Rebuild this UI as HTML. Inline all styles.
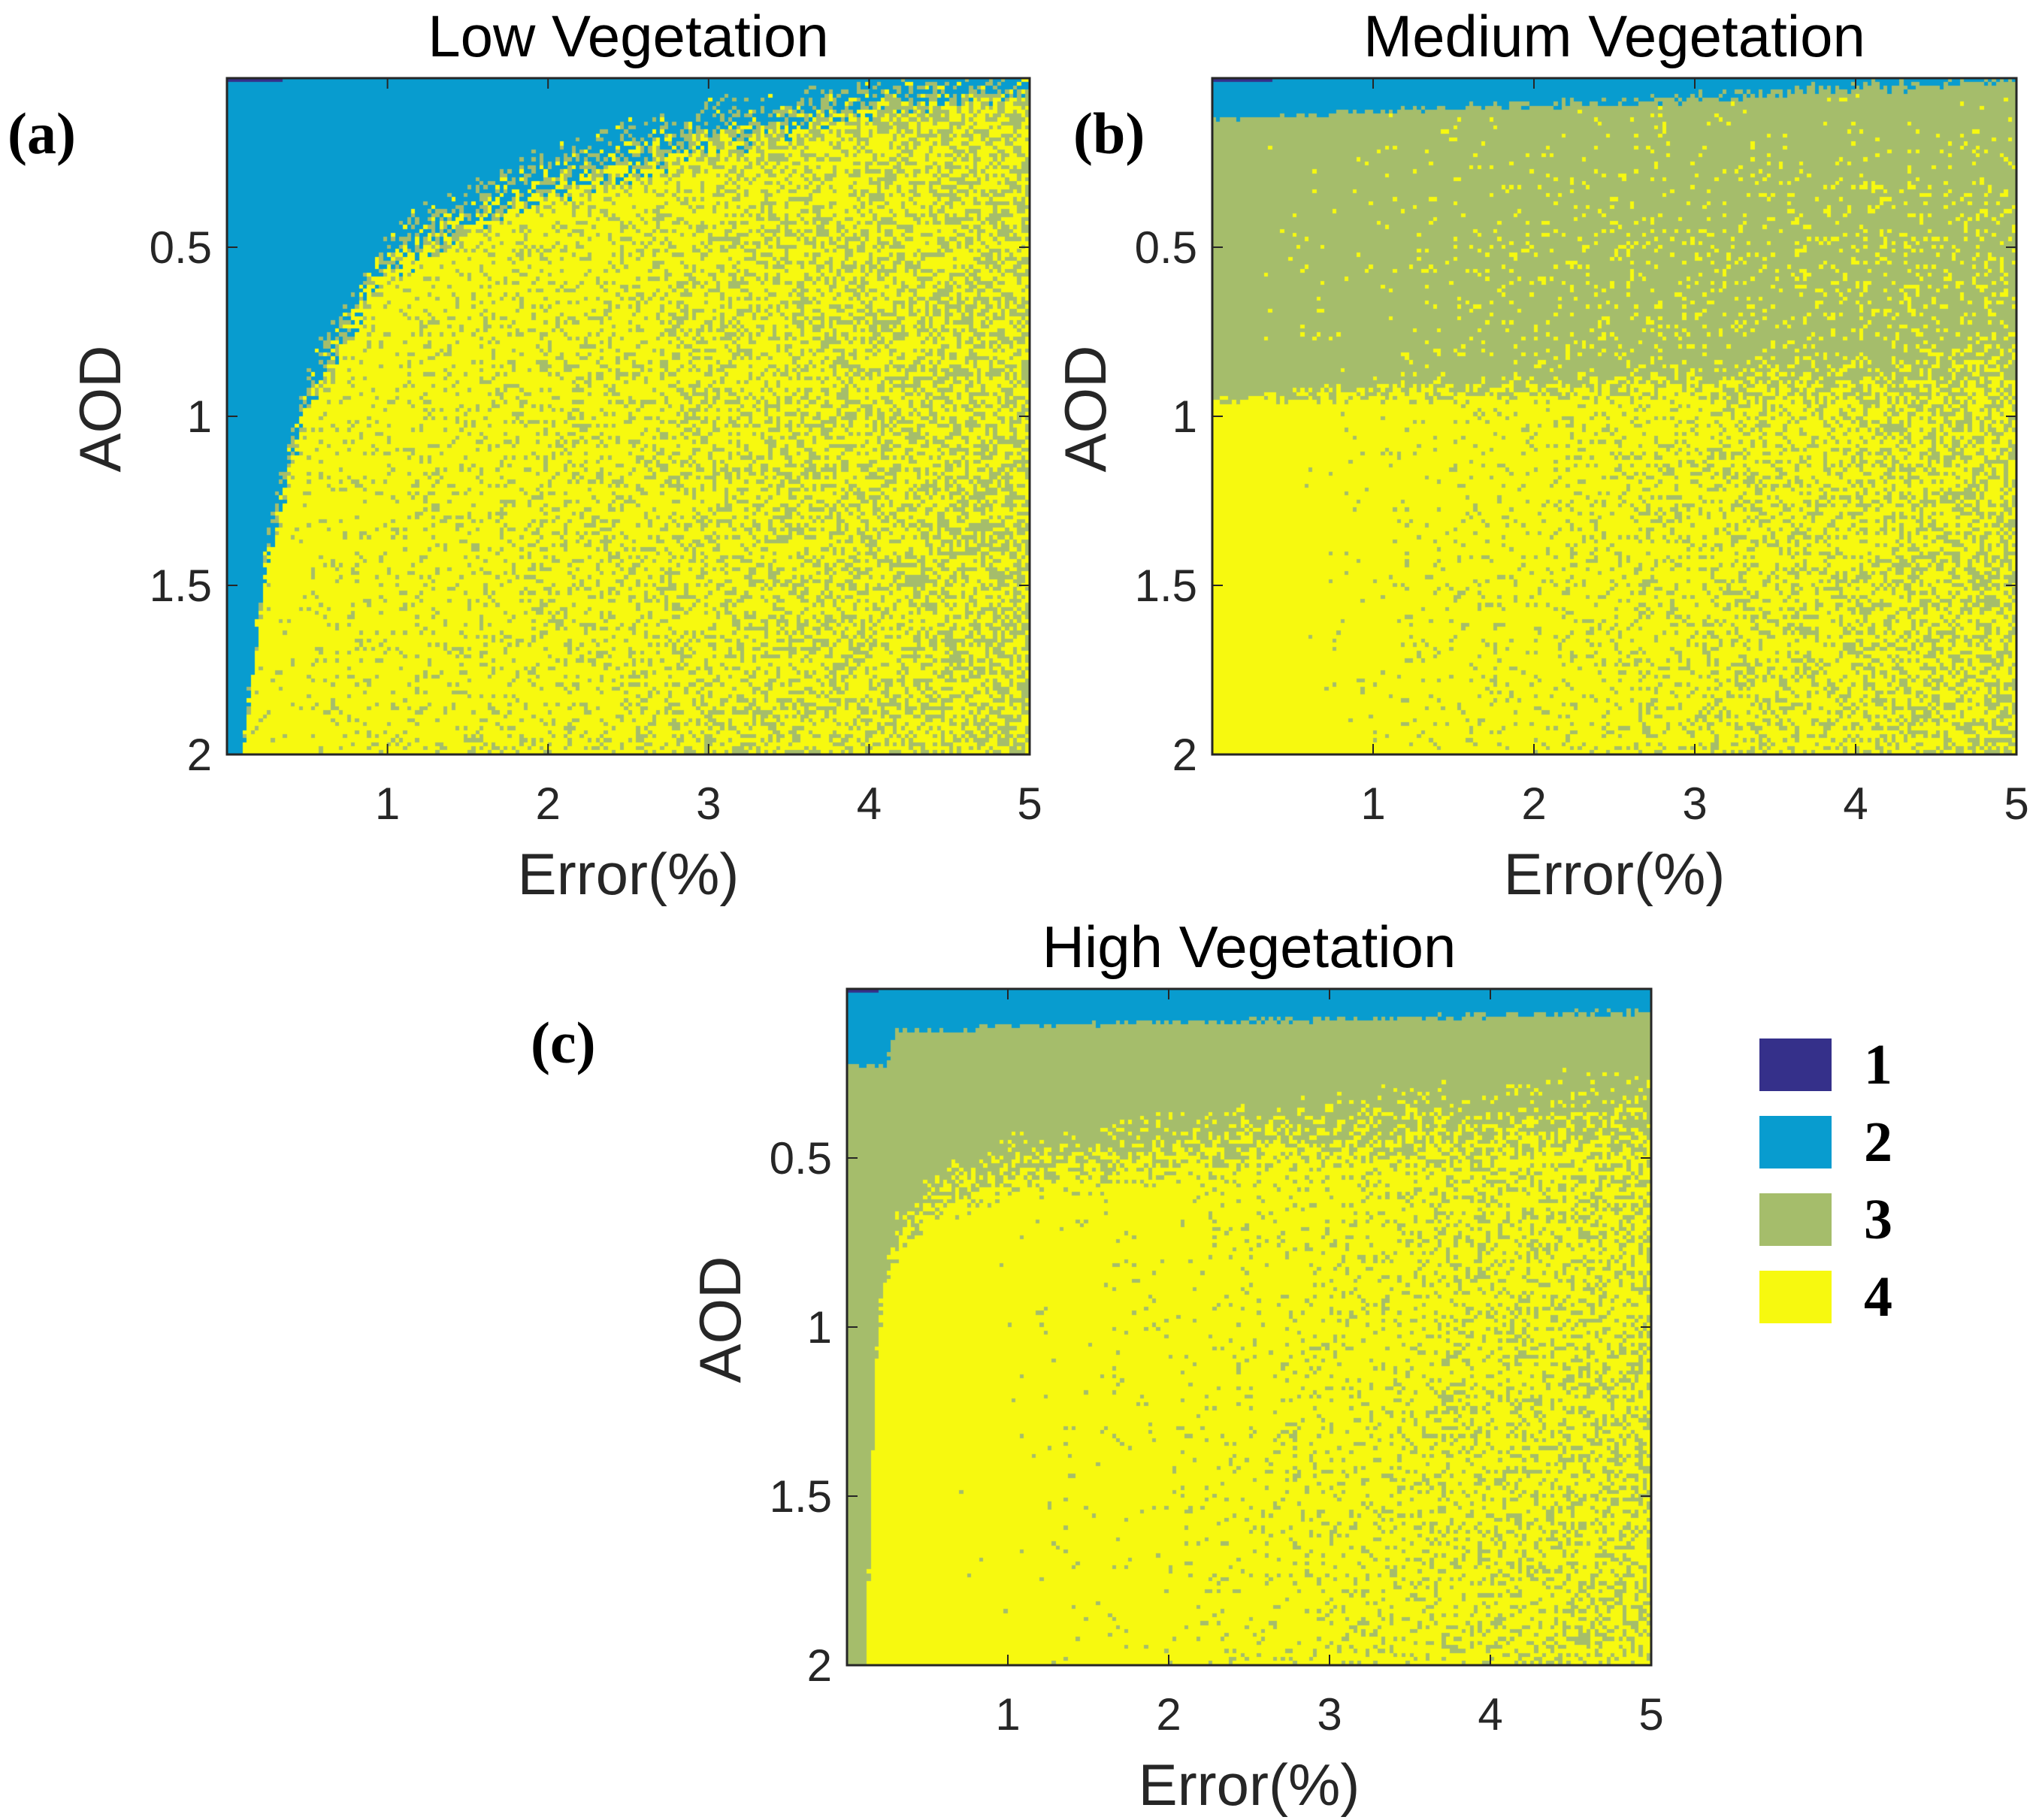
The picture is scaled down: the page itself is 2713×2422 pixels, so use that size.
<!DOCTYPE html>
<html><head><meta charset="utf-8">
<style>
html,body{margin:0;padding:0;background:#fff;}
#root{position:relative;width:2713px;height:2422px;overflow:hidden;background:#fff;font-family:"Liberation Sans",sans-serif;}
canvas{position:absolute;}
svg{position:absolute;left:0;top:0;}
</style></head>
<body>
<div id="root">
<canvas id="ca"></canvas>
<canvas id="cb"></canvas>
<canvas id="cc"></canvas>
<svg id="ov" width="2713" height="2422"></svg>
</div>
<script>
// ---- data (AOD 0 at top, 2 at bottom; Error 0..5) ----
const xTicks = [1,2,3,4,5];
const yTicks = [0.5,1,1.5,2];
const yTickLabels = ["0.5","1","1.5","2"];
const classColors = ["#35308a","#089ccf","#a5bd6b","#f7f90f"];
const legendLabels = ["1","2","3","4"];

// Panel a - Low Vegetation
const aErr        = [0, 0.1, 0.25, 0.5, 1.0, 1.3, 2.0, 3.0, 4.0, 5.0];
const aDarkEdge   = [0.012,0.012,0.01,0,0,0,0,0,0,0];
const aBlueEdge   = [2.05,2.0,1.4,0.92,0.53,0.43,0.29,0.15,0.07,0.02];
const aBlueFuzz   = [0.05,0.1,0.15,0.18,0.2,0.2,0.2,0.2,0.15,0.08];
const aGreenEdge  = [2.05,2.0,1.4,0.92,0.53,0.43,0.29,0.15,0.07,0.02];
const aGreenFuzz  = [0.1,0.1,0.15,0.2,0.25,0.25,0.25,0.25,0.2,0.15];
const aYellowGreenFrac = [0.05,0.05,0.06,0.08,0.12,0.15,0.2,0.3,0.38,0.45];
const aBandYellowFrac  = [0,0,0,0,0,0,0,0,0,0];

// Panel b - Medium Vegetation
const bErr        = [0, 0.25, 0.5, 1, 2, 3, 4, 5];
const bDarkEdge   = [0.012,0.012,0,0,0,0,0,0];
const bBlueEdge   = [0.12,0.12,0.11,0.1,0.08,0.06,0.03,0.005];
const bBlueFuzz   = [0.01,0.01,0.02,0.02,0.03,0.04,0.05,0.03];
const bGreenEdge  = [0.96,0.95,0.94,0.93,0.92,0.9,0.88,0.86];
const bGreenFuzz  = [0.03,0.04,0.05,0.08,0.1,0.12,0.15,0.18];
const bYellowGreenFrac = [0,0,0,0.03,0.12,0.25,0.35,0.45];
const bBandYellowFrac  = [0,0,0.02,0.05,0.1,0.12,0.15,0.18];

// Panel c - High Vegetation
const cErr        = [0, 0.12, 0.18, 0.25, 0.3, 0.6, 1, 2, 3, 4, 5];
const cDarkEdge   = [0.012,0.012,0.01,0,0,0,0,0,0,0,0];
const cBlueEdge   = [0.23,0.23,0.23,0.22,0.13,0.12,0.11,0.1,0.09,0.08,0.07];
const cBlueFuzz   = [0.01,0.01,0.01,0.03,0.02,0.02,0.02,0.02,0.02,0.02,0.02];
const cGreenEdge  = [2.05,2.0,1.1,0.85,0.75,0.6,0.54,0.47,0.43,0.4,0.37];
const cGreenFuzz  = [0.05,0.05,0.1,0.15,0.18,0.2,0.22,0.25,0.27,0.3,0.3];
const cYellowGreenFrac = [0,0,0,0,0,0,0.01,0.04,0.12,0.25,0.35];
const cBandYellowFrac  = [0,0,0,0,0,0,0,0,0,0,0];

const panels = [
  {id:"ca", key:"low", x:302, y:104, w:1068, h:900, title:"Low Vegetation", tag:"(a)", tagX:10, tagY:204,
   err:aErr, dark:aDarkEdge, blue:aBlueEdge, blueF:aBlueFuzz, green:aGreenEdge, greenF:aGreenFuzz, ygf:aYellowGreenFrac, band:aBandYellowFrac, seed:11},
  {id:"cb", key:"medium", x:1613, y:104, w:1070, h:900, title:"Medium Vegetation", tag:"(b)", tagX:1428, tagY:204,
   err:bErr, dark:bDarkEdge, blue:bBlueEdge, blueF:bBlueFuzz, green:bGreenEdge, greenF:bGreenFuzz, ygf:bYellowGreenFrac, band:bBandYellowFrac, seed:23},
  {id:"cc", key:"high", x:1127, y:1316, w:1070, h:900, title:"High Vegetation", tag:"(c)", tagX:706, tagY:1414,
   err:cErr, dark:cDarkEdge, blue:cBlueEdge, blueF:cBlueFuzz, green:cGreenEdge, greenF:cGreenFuzz, ygf:cYellowGreenFrac, band:cBandYellowFrac, seed:37}
];

function interp(xs, ys, x){
  if(x<=xs[0]) return ys[0];
  for(let i=1;i<xs.length;i++){ if(x<=xs[i]){ const t=(x-xs[i-1])/(xs[i]-xs[i-1]); return ys[i-1]+t*(ys[i]-ys[i-1]); } }
  return ys[ys.length-1];
}
function hash(i,j,s){ let h=(i*374761393 + j*668265263 + s*2147483647)|0; h=(h^(h>>>13))*1274126177|0; h=h^(h>>>16); return ((h>>>0)%10000)/10000; }

const COLS=200, ROWS=170;
panels.forEach(p=>{
  const cv=document.getElementById(p.id);
  cv.width=p.w; cv.height=p.h;
  cv.style.left=p.x+"px"; cv.style.top=p.y+"px";
  const ctx=cv.getContext("2d");
  const xs=e=>e/5*p.w, ys=a=>a/2*p.h;
  const cw=p.w/COLS, ch=p.h/ROWS;
  for(let i=0;i<COLS;i++){
    const e=(i+0.5)/COLS*5;
    const dE=interp(p.err,p.dark,e), bE=interp(p.err,p.blue,e), bF=interp(p.err,p.blueF,e);
    const gE=interp(p.err,p.green,e), gF=interp(p.err,p.greenF,e);
    const yg=interp(p.err,p.ygf,e), band=interp(p.err,p.band,e);
    for(let j=0;j<ROWS;j++){
      const a=(j+0.5)/ROWS*2;
      const t1=hash(i,j,p.seed), t2=hash(j,i,p.seed+5), t3=hash(i+7,j+3,p.seed+9);
      let c;
      if(a<dE) c=0;
      else if(a < bE + (t1-0.5)*bF) c=1;
      else if(a < gE + (t2-0.5)*gF) c = (t3<band*Math.min(1,a/0.5)) ? 3 : 2;
      else c = (t3<yg) ? 2 : 3;
      ctx.fillStyle=classColors[c];
      ctx.fillRect(Math.floor(xs(i/COLS*5)),Math.floor(ys(j/ROWS*2)),Math.ceil(cw)+1,Math.ceil(ch)+1);
    }
  }
});

// ---- axes, labels ----
const NS="http://www.w3.org/2000/svg";
const ov=document.getElementById("ov");
function mk(tag,attrs,txt){ const el=document.createElementNS(NS,tag); for(const k in attrs) el.setAttribute(k,attrs[k]); if(txt!==undefined) el.textContent=txt; ov.appendChild(el); return el; }

panels.forEach(p=>{
  const X=e=>p.x+e/5*p.w, Y=a=>p.y+a/2*p.h;
  const box=mk("rect",{x:p.x,y:p.y,width:p.w,height:p.h,fill:"none",stroke:"#262626","stroke-width":3});
  
  
  xTicks.forEach(v=>{
    const l1=mk("line",{x1:X(v),x2:X(v),y1:p.y+p.h,y2:p.y+p.h-14,stroke:"#262626","stroke-width":2});
    
    
    const l2=mk("line",{x1:X(v),x2:X(v),y1:p.y,y2:p.y+14,stroke:"#262626","stroke-width":2});
    
    
    const t=mk("text",{x:X(v),y:p.y+p.h+86,"text-anchor":"middle","font-size":60,fill:"#262626","font-family":"Liberation Sans, sans-serif"},String(v));
    
    
  });
  yTicks.forEach((v,k)=>{
    const l1=mk("line",{x1:p.x,x2:p.x+14,y1:Y(v),y2:Y(v),stroke:"#262626","stroke-width":2});
    
    
    const l2=mk("line",{x1:p.x+p.w,x2:p.x+p.w-14,y1:Y(v),y2:Y(v),stroke:"#262626","stroke-width":2});
    
    
    const t=mk("text",{x:p.x-20,y:Y(v)+21,"text-anchor":"end","font-size":60,fill:"#262626","font-family":"Liberation Sans, sans-serif"},yTickLabels[k]);
    
    
  });
  const xl=mk("text",{x:p.x+p.w/2,y:p.y+p.h+186,"text-anchor":"middle","font-size":78,fill:"#262626","font-family":"Liberation Sans, sans-serif"},"Error(%)");
  
  
  const yl=mk("text",{x:0,y:0,transform:`translate(${p.x-142},${p.y+p.h/2-10}) rotate(-90)`,"text-anchor":"middle","font-size":78,fill:"#262626","font-family":"Liberation Sans, sans-serif"},"AOD");
  
  
  const ti=mk("text",{x:p.x+p.w/2,y:p.y-29,"text-anchor":"middle","font-size":78,fill:"#000","font-family":"Liberation Sans, sans-serif"},p.title);
  
  
  const tg=mk("text",{x:p.tagX,y:p.tagY,"font-size":78,"font-weight":"bold",fill:"#000","font-family":"Liberation Serif, serif"},p.tag);
  
  
});

// legend
const legX=2341, legW=96, legH=70, legY0=1382, legStep=103;
legendLabels.forEach((lab,k)=>{
  const r=mk("rect",{x:legX,y:legY0+k*legStep,width:legW,height:legH,fill:classColors[k]});
  
  
  const t=mk("text",{x:2499,y:legY0+k*legStep+60,"text-anchor":"middle","font-size":76,"font-weight":"bold",fill:"#000","font-family":"Liberation Serif, serif"},lab);
  
  
});
</script>
</body></html>
